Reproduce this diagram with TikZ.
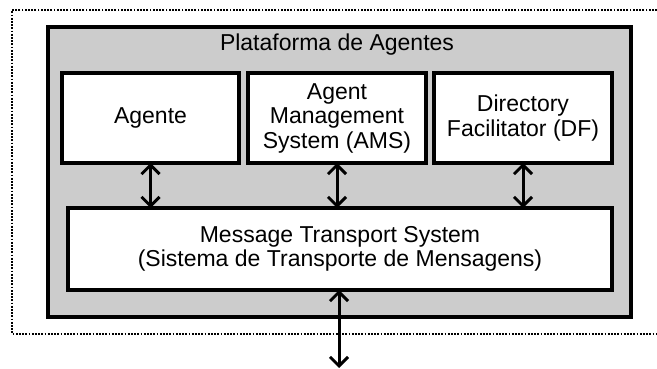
\documentclass[tikz,border=0pt]{standalone}
\usepackage{fontspec}
\setmainfont{Liberation Sans}
\usetikzlibrary{arrows.meta, positioning}
\definecolor{platgray}{HTML}{CCCCCC}

\begin{document}
\begin{tikzpicture}[
    x=1pt, y=-1pt,
    font=\fontsize{23}{24.5}\selectfont,
    node distance=9pt,
    platform/.style={draw, line width=3.5pt, fill=platgray, minimum width=583pt, minimum height=290pt, outer sep=0pt},
    component/.style={draw, line width=3.5pt, fill=white, minimum width=178pt, minimum height=90pt, align=center, outer sep=0pt, inner sep=0pt},
    transport/.style={draw, line width=3.5pt, fill=white, minimum width=544pt, minimum height=82pt, align=center, outer sep=0pt},
    biarrow/.style={{Straight Barb[length=9pt,width=18pt]}-{Straight Barb[length=9pt,width=18pt]}, line width=3pt},
    boundary/.style={line width=2pt, dash pattern=on 1.8pt off 1.4pt}
  ]
    \useasboundingbox (0,0) rectangle (657,369);

    % limite do sistema (aberto a direita)
    \draw[boundary] (657,10) -- (12,10) -- (12,334) -- (657,334);

    \node[platform] (plat) at (339.5,172) {};
    \node (title) at (337,45) {Plataforma de Agentes};

    \node[component, minimum width=177pt] (agente) at (150.5,118) {Agente};
    \node[component, right=of agente] (ams) {Agent\\Management\\System (AMS)};
    \node[component, right=8pt of ams] (df) {Directory\\Facilitator (DF)};

    \node[transport] (mts) at (340,249) {Message Transport System\\(Sistema de Transporte de Mensagens)};
    \coordinate (ext) at (339,368);

    \draw[biarrow] (agente.south) -- (agente.south |- mts.north);
    \draw[biarrow] (ams.south) -- (ams.south |- mts.north);
    \draw[biarrow] (df.south) -- (df.south |- mts.north);
    \draw[biarrow] (mts.south -| ext) -- (ext);
\end{tikzpicture}
\end{document}
